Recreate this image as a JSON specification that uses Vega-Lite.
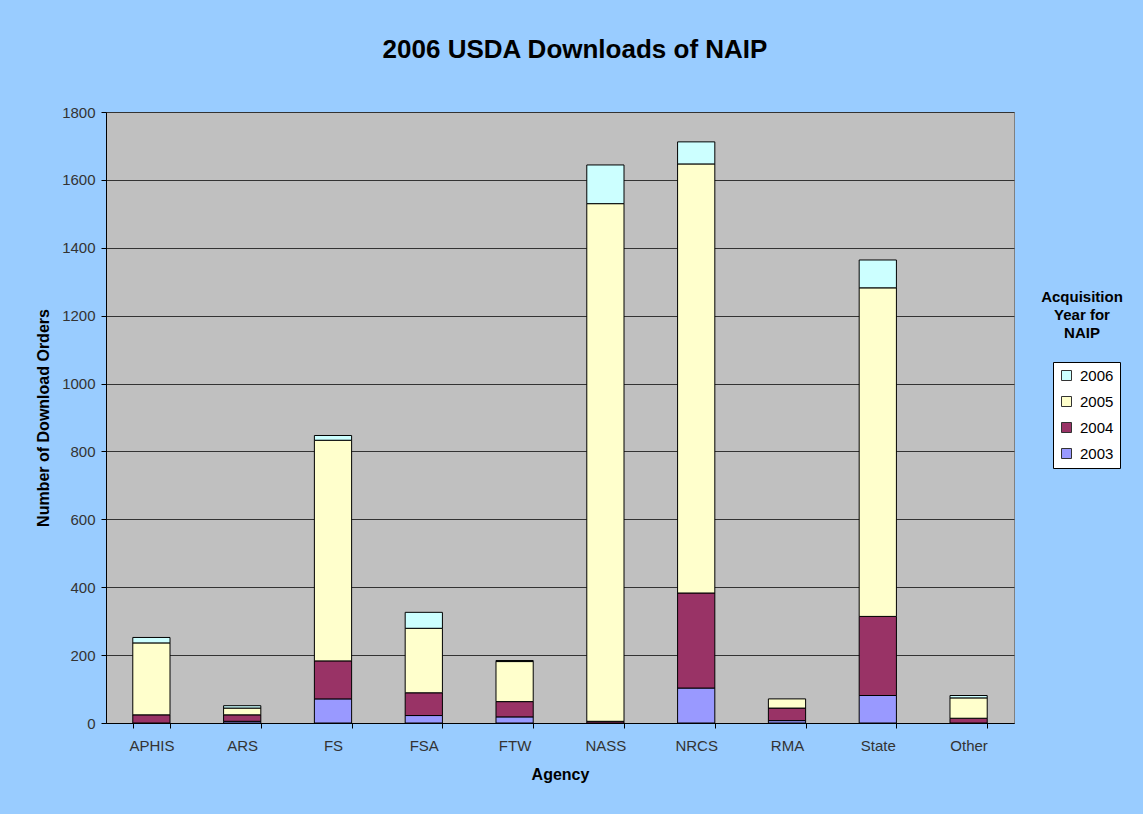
{
  "$schema": "https://vega.github.io/schema/vega-lite/v6.json",
  "width": 908,
  "height": 611,
  "autosize": {"type": "none"},
  "padding": {"left": 106, "top": 112, "right": 129, "bottom": 91},
  "background": "#99CCFF",
  "title": {"text": "2006 USDA Downloads of NAIP", "anchor": "middle", "frame": "group", "dx": 15, "offset": 42, "font": "Liberation Sans", "fontSize": 26, "fontWeight": "bold", "color": "#000000"},
  "data": {"values": [
    {"agency": "APHIS", "year": "2004", "count": 24},
    {"agency": "APHIS", "year": "2005", "count": 212},
    {"agency": "APHIS", "year": "2006", "count": 16},
    {"agency": "ARS", "year": "2003", "count": 5},
    {"agency": "ARS", "year": "2004", "count": 19},
    {"agency": "ARS", "year": "2005", "count": 20},
    {"agency": "ARS", "year": "2006", "count": 7},
    {"agency": "FS", "year": "2003", "count": 71},
    {"agency": "FS", "year": "2004", "count": 112},
    {"agency": "FS", "year": "2005", "count": 650},
    {"agency": "FS", "year": "2006", "count": 14},
    {"agency": "FSA", "year": "2003", "count": 22},
    {"agency": "FSA", "year": "2004", "count": 67},
    {"agency": "FSA", "year": "2005", "count": 190},
    {"agency": "FSA", "year": "2006", "count": 47},
    {"agency": "FTW", "year": "2003", "count": 18},
    {"agency": "FTW", "year": "2004", "count": 45},
    {"agency": "FTW", "year": "2005", "count": 118},
    {"agency": "FTW", "year": "2006", "count": 3},
    {"agency": "NASS", "year": "2004", "count": 5},
    {"agency": "NASS", "year": "2005", "count": 1525},
    {"agency": "NASS", "year": "2006", "count": 114},
    {"agency": "NRCS", "year": "2003", "count": 103},
    {"agency": "NRCS", "year": "2004", "count": 280},
    {"agency": "NRCS", "year": "2005", "count": 1264},
    {"agency": "NRCS", "year": "2006", "count": 65},
    {"agency": "RMA", "year": "2003", "count": 7},
    {"agency": "RMA", "year": "2004", "count": 37},
    {"agency": "RMA", "year": "2005", "count": 27},
    {"agency": "State", "year": "2003", "count": 81},
    {"agency": "State", "year": "2004", "count": 233},
    {"agency": "State", "year": "2005", "count": 968},
    {"agency": "State", "year": "2006", "count": 82},
    {"agency": "Other", "year": "2004", "count": 14},
    {"agency": "Other", "year": "2005", "count": 60},
    {"agency": "Other", "year": "2006", "count": 7}
  ]},
  "layer": [
    {
      "mark": {"type": "bar", "stroke": "#000000", "strokeWidth": 1},
      "encoding": {
        "x": {
          "field": "agency", "type": "nominal",
          "sort": ["APHIS", "ARS", "FS", "FSA", "FTW", "NASS", "NRCS", "RMA", "State", "Other"],
          "scale": {"paddingInner": 0.59, "paddingOuter": 0.295},
          "axis": {
            "tickBand": "extent", "ticks": true, "tickSize": 5, "tickColor": "#000000",
            "domainColor": "#000000", "labelAngle": 0, "labelPadding": 10,
            "labelFont": "Liberation Sans", "labelFontSize": 15, "labelColor": "#333333",
            "title": "Agency", "titleFont": "Liberation Sans", "titleFontSize": 16, "titleFontWeight": "bold",
            "titleColor": "#000000", "titlePadding": 13, "grid": false
          }
        },
        "y": {
          "field": "count", "type": "quantitative", "stack": "zero",
          "scale": {"domain": [0, 1800], "nice": false},
          "axis": {
            "values": [0, 200, 400, 600, 800, 1000, 1200, 1400, 1600, 1800], "format": "d",
            "grid": true, "gridColor": "#333333", "gridWidth": 1,
            "domainColor": "#000000", "tickColor": "#000000", "tickSize": 5, "labelPadding": 6,
            "labelFont": "Liberation Sans", "labelFontSize": 15, "labelColor": "#333333",
            "title": "Number of Download Orders", "titleFont": "Liberation Sans", "titleFontSize": 16,
            "titleFontWeight": "bold", "titleColor": "#000000", "titlePadding": 10
          }
        },
        "color": {
          "field": "year", "type": "nominal",
          "scale": {"domain": ["2006", "2005", "2004", "2003"], "range": ["#CCFFFF", "#FFFFCC", "#993366", "#9999FF"]},
          "legend": {
            "title": null, "orient": "none", "legendX": 947, "legendY": 250,
            "fillColor": "#FFFFFF", "strokeColor": "#000000", "padding": 6, "rowPadding": 10,
            "symbolType": "square", "symbolSize": 100, "symbolStrokeColor": "#333333", "symbolStrokeWidth": 1,
            "labelFont": "Liberation Sans", "labelFontSize": 15, "labelColor": "#000000", "labelOffset": 6
          }
        },
        "order": {"field": "year", "type": "ordinal", "sort": "ascending"}
      }
    },
    {
      "mark": {"type": "point", "opacity": 0},
      "encoding": {
        "x": {"field": "agency", "type": "nominal", "sort": ["APHIS", "ARS", "FS", "FSA", "FTW", "NASS", "NRCS", "RMA", "State", "Other"]},
        "y": {"datum": 0},
        "shape": {
          "datum": "NAIP",
          "legend": {
            "title": ["Acquisition", "Year for", "NAIP"], "titleFont": "Liberation Sans", "titleFontSize": 15,
            "titleFontWeight": "bold", "titleColor": "#000000", "titleAlign": "center", "titleAnchor": "middle",
            "titleLineHeight": 18, "titleBaseline": "top", "labelExpr": "''", "symbolOpacity": 0,
            "symbolStrokeWidth": 0, "orient": "none", "legendX": 935, "legendY": 178, "padding": 0
          }
        }
      }
    }
  ],
  "config": {
    "view": {"fill": "#C0C0C0", "stroke": "#808080", "strokeWidth": 1}
  }
}
